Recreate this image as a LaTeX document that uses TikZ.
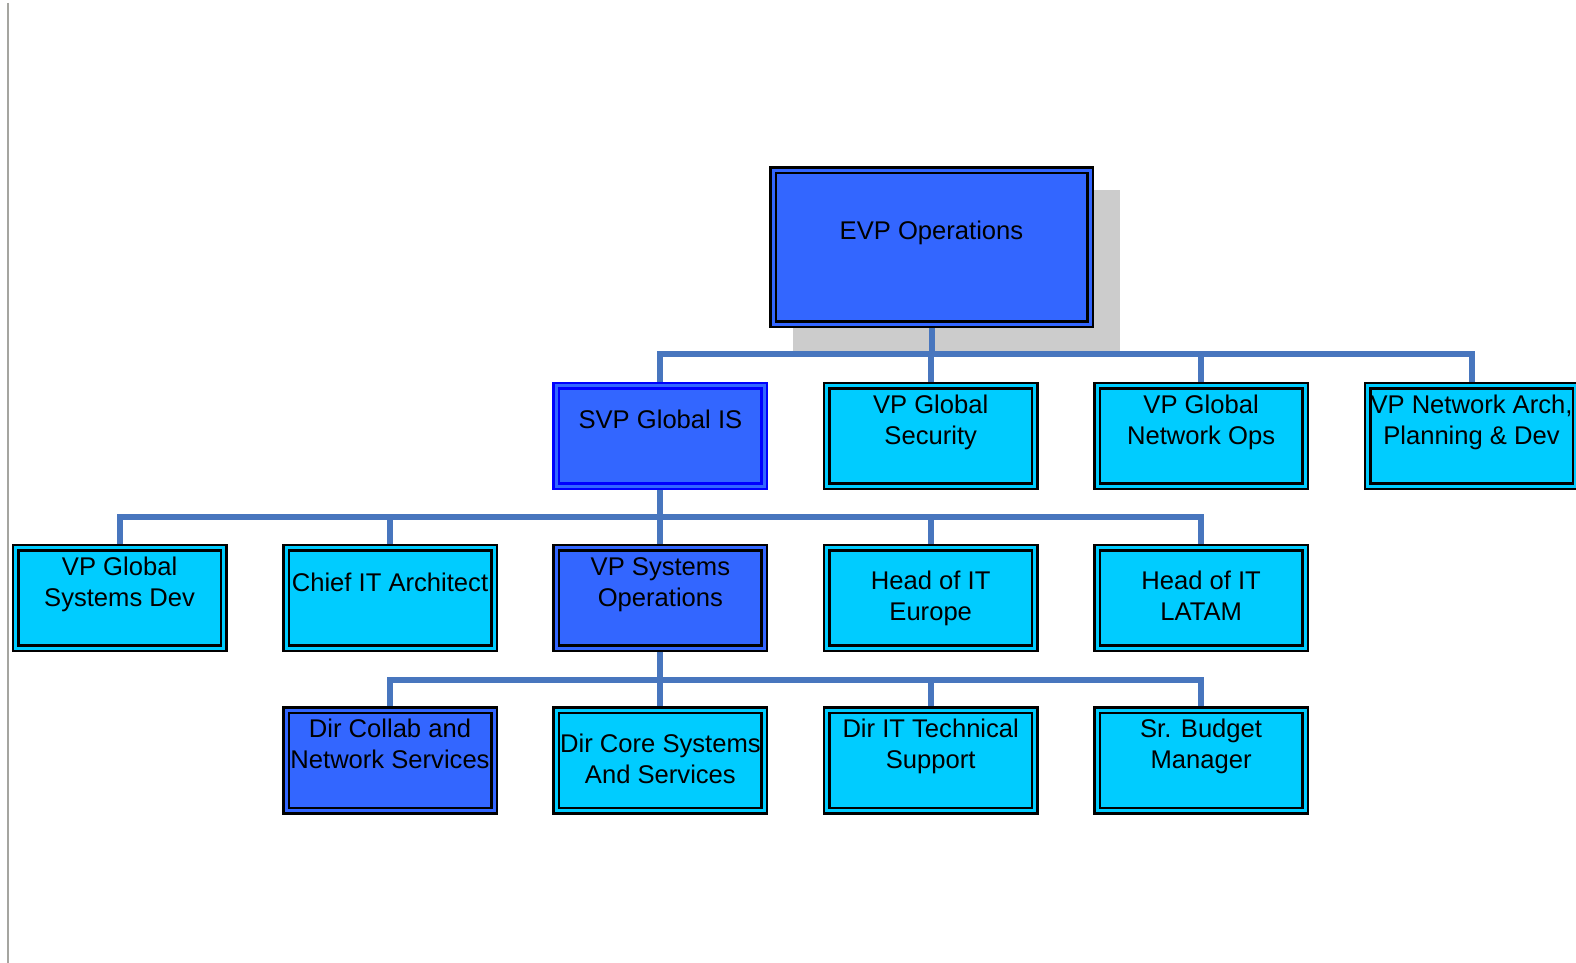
\documentclass[tikz,border=0pt]{standalone}
\usepackage{fontspec}
\setmainfont{Liberation Sans}
\usetikzlibrary{calc,backgrounds}
\definecolor{opsblue}{RGB}{51,102,255}
\definecolor{opscyan}{RGB}{0,204,255}
\definecolor{svpedge}{RGB}{0,0,255}
\definecolor{busblue}{RGB}{72,118,190}
\definecolor{shadowgray}{RGB}{204,204,204}
\definecolor{sidegray}{RGB}{165,165,160}
\tikzset{
 orgbox/.style={draw=black,line width=2.5pt,double distance=3pt,minimum width=208pt,minimum height=100.5pt,inner sep=0pt},
 bluebox/.style={orgbox,fill=opsblue,double=opsblue},
 cyanbox/.style={orgbox,fill=opscyan,double=opscyan},
 boxtext/.style={anchor=base,align=center,inner sep=0pt,font=\fontsize{25.6}{31}\selectfont},
 bus/.style={busblue,line width=6pt},
}
\begin{document}
\begin{tikzpicture}[x=1pt,y=-1pt]
 \useasboundingbox (0,0) rectangle (1576,963);
 \draw[sidegray,line width=2pt] (8,3)--(8,963);
 % boxes
 \node[bluebox,minimum width=317pt,minimum height=154pt] (evp) at (931.5,247) {};
 \node[bluebox,draw=svpedge] (svp) at (660.4,436) {};
 \node[cyanbox] (sec) at (930.7,436) {};
 \node[cyanbox] (netops) at (1201.1,436) {};
 \node[cyanbox] (netarch) at (1471.5,436) {};
 \node[cyanbox] (sysdev) at (119.6,598) {};
 \node[cyanbox] (arch) at (390,598) {};
 \node[bluebox] (sysops) at (660.4,598) {};
 \node[cyanbox] (europe) at (930.7,598) {};
 \node[cyanbox] (latam) at (1201.1,598) {};
 \node[bluebox] (collab) at (390,760.5) {};
 \node[cyanbox] (core) at (660.4,760.5) {};
 \node[cyanbox] (tech) at (930.7,760.5) {};
 \node[cyanbox] (budget) at (1201.1,760.5) {};
 % texts (base = last line)
 \node[boxtext] (evp-t) at (931.5,239) {EVP Operations};
 \node[boxtext] (svp-t) at (660.4,428) {SVP Global IS};
 \node[boxtext] (sec-t) at (930.7,444) {VP Global\\Security};
 \node[boxtext] (netops-t) at (1201.1,444) {VP Global\\Network Ops};
 \node[boxtext] (netarch-t) at (1471.5,444) {VP Network Arch,\\Planning \& Dev};
 \node[boxtext] (sysdev-t) at (119.6,606) {VP Global\\Systems Dev};
 \node[boxtext] (arch-t) at (390,591) {Chief IT Architect};
 \node[boxtext] (sysops-t) at (660.4,606) {VP Systems\\Operations};
 \node[boxtext] (europe-t) at (930.7,620) {Head of IT\\Europe};
 \node[boxtext] (latam-t) at (1201.1,620) {Head of IT\\LATAM};
 \node[boxtext] (collab-t) at (390,768) {Dir Collab and\\Network Services};
 \node[boxtext] (core-t) at (660.4,783) {Dir Core Systems\\And Services};
 \node[boxtext] (tech-t) at (930.7,768) {Dir IT Technical\\Support};
 \node[boxtext] (budget-t) at (1201.1,768) {Sr. Budget\\Manager};
 % shadow and connectors
 \begin{pgfonlayer}{background}
 \fill[white] (0,0) rectangle (1576,963);
 \fill[shadowgray] ($(evp.north west)+(21.5,21.5)$) rectangle ($(evp.south east)+(28.5,28.5)$);
 \coordinate (bus1) at (evp.south |- 0,354);
 \coordinate (bus2) at (svp.south |- 0,517);
 \coordinate (bus3) at (sysops.south |- 0,679.5);
 \draw[bus] (evp.south)--(bus1);
 \draw[bus] (bus1) -| (svp.north);
 \draw[bus] (bus1) -| (sec.north);
 \draw[bus] (bus1) -| (netops.north);
 \draw[bus] (bus1) -| (netarch.north);
 \draw[bus] (svp.south)--(bus2);
 \draw[bus] (bus2) -| (sysdev.north);
 \draw[bus] (bus2) -| (arch.north);
 \draw[bus] (bus2) -| (sysops.north);
 \draw[bus] (bus2) -| (europe.north);
 \draw[bus] (bus2) -| (latam.north);
 \draw[bus] (sysops.south)--(bus3);
 \draw[bus] (bus3) -| (collab.north);
 \draw[bus] (bus3) -| (core.north);
 \draw[bus] (bus3) -| (tech.north);
 \draw[bus] (bus3) -| (budget.north);
 \end{pgfonlayer}
\end{tikzpicture}
\end{document}
